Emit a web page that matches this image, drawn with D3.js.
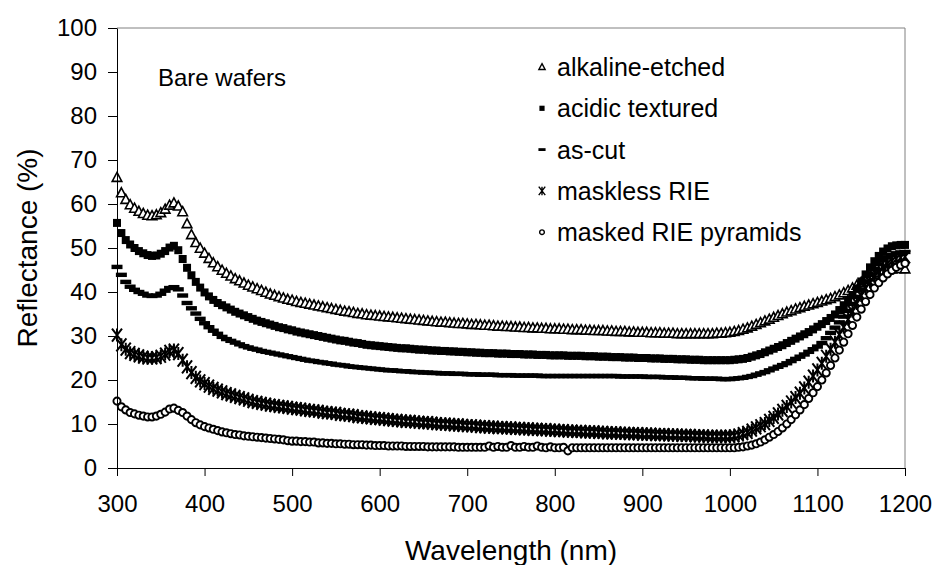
<!DOCTYPE html>
<html>
<head>
<meta charset="utf-8">
<script src="https://cdn.jsdelivr.net/npm/d3@7"></script>
<style>
  body { margin: 0; background: #fff; }
  text { font-family: "Liberation Sans", Arial, sans-serif; fill: #000; }
</style>
</head>
<body>
<div class="chart"></div>
<script>
// wavelength grid (nm)
const wavelength = [
  300,305,310,315,320,325,330,335,340,345,350,355,360,365,370,375,380,385,390,395,
  400,405,410,415,420,425,430,435,440,445,450,455,460,465,470,475,480,485,490,495,
  500,505,510,515,520,525,530,535,540,545,550,555,560,565,570,575,580,585,590,595,
  600,605,610,615,620,625,630,635,640,645,650,655,660,665,670,675,680,685,690,695,
  700,705,710,715,720,725,730,735,740,745,750,755,760,765,770,775,780,785,790,795,
  800,805,810,815,820,825,830,835,840,845,850,855,860,865,870,875,880,885,890,895,
  900,905,910,915,920,925,930,935,940,945,950,955,960,965,970,975,980,985,990,995,
  1000,1005,1010,1015,1020,1025,1030,1035,1040,1045,1050,1055,1060,1065,1070,1075,1080,1085,1090,1095,
  1100,1105,1110,1115,1120,1125,1130,1135,1140,1145,1150,1155,1160,1165,1170,1175,1180,1185,1190,1195,
  1200
];

const alkaline = [
  66.0,62.5,61.0,59.8,59.0,58.3,57.8,57.4,57.3,57.5,58.0,58.8,59.7,60.2,59.5,58.2,55.5,53.0,51.2,49.9,
  48.8,47.6,46.6,45.7,44.9,44.2,43.6,43.0,42.5,42.0,41.5,41.1,40.7,40.3,39.9,39.5,39.2,38.9,38.6,38.3,
  38.1,37.8,37.6,37.4,37.2,37.0,36.8,36.6,36.4,36.2,36.0,35.8,35.6,35.5,35.3,35.1,35.0,34.8,34.7,34.6,
  34.5,34.4,34.3,34.2,34.1,34.0,33.9,33.8,33.7,33.6,33.5,33.4,33.3,33.2,33.1,33.1,33.0,32.9,32.8,32.8,
  32.7,32.6,32.6,32.5,32.4,32.4,32.3,32.2,32.2,32.1,32.1,32.0,32.0,31.9,31.9,31.8,31.8,31.7,31.7,31.6,
  31.6,31.6,31.5,31.5,31.4,31.4,31.4,31.3,31.3,31.2,31.2,31.2,31.1,31.1,31.0,31.0,31.0,30.9,30.9,30.8,
  30.8,30.8,30.7,30.7,30.7,30.6,30.6,30.6,30.5,30.5,30.5,30.5,30.5,30.5,30.5,30.5,30.5,30.6,30.6,30.7,
  30.8,31.0,31.2,31.5,31.8,32.2,32.6,33.0,33.4,33.8,34.2,34.6,35.0,35.4,35.7,36.1,36.4,36.7,37.0,37.3,
  37.6,37.9,38.2,38.5,38.9,39.3,39.8,40.3,40.9,41.5,42.2,42.8,43.4,43.9,44.3,44.7,45.0,45.2,45.3,45.3,
  45.2
];

const acidic = [
  55.7,53.4,51.8,50.8,50.0,49.3,48.8,48.4,48.2,48.3,48.7,49.3,50.1,50.5,49.5,47.5,45.5,43.8,42.3,41.0,
  39.9,39.0,38.2,37.5,37.0,36.5,36.0,35.5,35.1,34.7,34.3,33.9,33.5,33.2,32.9,32.6,32.3,32.0,31.8,31.5,
  31.3,31.0,30.8,30.6,30.4,30.2,30.0,29.8,29.6,29.4,29.2,29.0,28.9,28.7,28.5,28.4,28.2,28.0,27.9,27.8,
  27.7,27.6,27.5,27.4,27.3,27.2,27.2,27.1,27.0,26.9,26.9,26.8,26.7,26.7,26.6,26.6,26.5,26.5,26.4,26.4,
  26.3,26.3,26.2,26.2,26.1,26.1,26.1,26.0,26.0,26.0,25.9,25.9,25.9,25.8,25.8,25.8,25.7,25.7,25.7,25.6,
  25.6,25.6,25.6,25.5,25.5,25.5,25.5,25.4,25.4,25.4,25.3,25.3,25.3,25.2,25.2,25.2,25.1,25.1,25.1,25.0,
  25.0,25.0,24.9,24.9,24.9,24.8,24.8,24.8,24.7,24.7,24.7,24.6,24.6,24.6,24.5,24.5,24.5,24.5,24.5,24.5,
  24.5,24.6,24.7,24.8,25.0,25.3,25.6,25.9,26.3,26.7,27.1,27.5,27.9,28.4,28.9,29.4,29.9,30.4,30.9,31.5,
  32.1,32.7,33.4,34.1,34.9,35.9,37.0,38.0,39.3,40.8,42.4,44.0,45.6,47.0,48.2,49.2,49.9,50.4,50.6,50.7,
  50.7
];

const asCut = [
  45.7,43.9,42.3,41.2,40.5,40.0,39.6,39.2,39.1,39.2,39.6,40.3,40.9,41.1,40.6,39.2,37.5,36.3,35.1,33.9,
  32.9,32.0,31.2,30.5,29.8,29.3,28.9,28.5,28.1,27.7,27.4,27.1,26.9,26.6,26.4,26.2,26.0,25.8,25.6,25.4,
  25.2,25.0,24.8,24.6,24.4,24.3,24.1,24.0,23.8,23.7,23.5,23.4,23.3,23.1,23.0,22.9,22.8,22.7,22.6,22.5,
  22.4,22.3,22.2,22.2,22.1,22.0,22.0,21.9,21.8,21.8,21.7,21.7,21.6,21.6,21.5,21.5,21.5,21.4,21.4,21.4,
  21.3,21.3,21.3,21.2,21.2,21.2,21.2,21.1,21.1,21.1,21.1,21.0,21.0,21.0,21.0,21.0,21.0,20.9,20.9,20.9,
  20.9,20.9,20.9,20.9,20.9,20.9,20.9,20.9,20.9,20.9,20.9,20.9,20.9,20.9,20.9,20.8,20.8,20.8,20.8,20.8,
  20.8,20.7,20.7,20.7,20.7,20.6,20.6,20.6,20.5,20.5,20.5,20.4,20.4,20.4,20.3,20.3,20.3,20.3,20.2,20.2,
  20.2,20.3,20.4,20.5,20.7,20.9,21.2,21.5,21.8,22.2,22.6,23.0,23.4,23.8,24.3,24.8,25.3,25.8,26.4,27.0,
  27.6,28.4,29.5,30.7,31.9,33.1,34.4,35.7,37.3,38.9,40.6,42.3,43.9,45.2,46.3,47.2,47.9,48.4,48.8,49.0,
  49.1
];

const maskless = [
  30.2,28.0,27.0,26.2,25.8,25.5,25.2,25.0,25.0,25.1,25.4,25.9,26.5,26.8,26.0,24.5,23.0,21.7,20.6,19.8,
  19.2,18.6,18.1,17.7,17.3,16.9,16.6,16.3,16.0,15.7,15.4,15.1,14.9,14.7,14.5,14.3,14.2,14.0,13.9,13.8,
  13.6,13.5,13.4,13.2,13.1,13.0,12.9,12.7,12.6,12.5,12.4,12.2,12.1,12.0,11.9,11.7,11.6,11.5,11.4,11.3,
  11.2,11.1,11.0,10.9,10.8,10.7,10.6,10.6,10.5,10.4,10.3,10.3,10.2,10.1,10.0,10.0,9.9,9.8,9.8,9.7,
  9.6,9.6,9.5,9.4,9.4,9.3,9.3,9.2,9.2,9.1,9.1,9.0,9.0,8.9,8.9,8.8,8.8,8.7,8.7,8.6,
  8.6,8.5,8.5,8.4,8.4,8.3,8.3,8.2,8.2,8.2,8.1,8.1,8.0,8.0,8.0,7.9,7.9,7.8,7.8,7.8,
  7.7,7.7,7.7,7.6,7.6,7.6,7.5,7.5,7.5,7.4,7.4,7.4,7.3,7.3,7.3,7.2,7.2,7.2,7.2,7.2,
  7.2,7.3,7.5,7.8,8.1,8.6,9.1,9.6,10.1,10.8,11.5,12.3,13.1,14.0,15.0,16.0,17.0,18.2,19.5,20.9,
  22.3,23.8,25.4,27.0,28.6,30.3,32.0,33.8,35.6,37.4,39.2,40.8,42.3,43.6,44.7,45.6,46.4,47.0,47.5,47.8,
  48.0
];

const masked = [
  15.2,13.9,13.2,12.6,12.3,12.0,11.8,11.6,11.6,11.8,12.2,12.7,13.4,13.6,13.1,12.6,11.8,11.0,10.3,9.8,
  9.4,9.1,8.8,8.5,8.2,8.0,7.8,7.6,7.5,7.3,7.2,7.1,7.0,6.9,6.8,6.7,6.6,6.5,6.4,6.2,
  6.1,6.1,6.0,6.0,5.9,5.9,5.7,5.7,5.6,5.6,5.5,5.5,5.4,5.4,5.3,5.3,5.3,5.2,5.2,5.1,
  5.1,5.1,5.0,5.0,5.0,5.0,4.9,4.9,4.9,4.9,4.9,4.8,4.8,4.8,4.8,4.8,4.8,4.8,4.7,4.7,
  4.7,4.7,4.7,4.7,4.7,5.0,4.7,4.9,4.7,4.7,5.1,4.7,4.7,4.9,4.7,4.7,5.0,4.7,4.6,4.8,
  4.6,4.6,4.7,3.9,4.6,4.6,4.6,4.6,4.6,4.6,4.6,4.6,4.6,4.6,4.6,4.6,4.6,4.6,4.6,4.6,
  4.6,4.6,4.6,4.6,4.6,4.6,4.6,4.6,4.6,4.6,4.6,4.6,4.6,4.6,4.6,4.6,4.6,4.6,4.6,4.6,
  4.6,4.6,4.7,4.8,5.0,5.2,5.5,5.9,6.4,7.0,7.6,8.3,9.1,10.0,11.0,12.1,13.2,14.4,15.8,17.1,
  18.5,20.0,21.6,23.3,25.0,26.8,28.6,30.5,32.4,34.3,36.1,37.8,39.4,40.9,42.1,43.2,44.1,44.9,45.6,46.1,
  46.5
];

const seriesNames = ["alkaline-etched", "acidic textured", "as-cut", "maskless RIE", "masked RIE pyramids"];
const seriesValues = [alkaline, acidic, asCut, maskless, masked];
const seriesMarks = ["triangle", "square", "dash", "star", "circle"];

const xTicks = [300, 400, 500, 600, 700, 800, 900, 1000, 1100, 1200];
const yTicks = [0, 10, 20, 30, 40, 50, 60, 70, 80, 90, 100];

const w = 934;
const h = 565;
const plotLeft = 117, plotRight = 905, plotTop = 28, plotBottom = 468;

const xScale = d3.scaleLinear().domain([300, 1200]).range([plotLeft, plotRight]);
const yScale = d3.scaleLinear().domain([0, 100]).range([plotBottom, plotTop]);

const svg = d3.select(".chart")
  .append("svg")
  .attr("width", w)
  .attr("height", h);

// plot frame (top/right in grey)
svg.append("path")
  .attr("d", `M${plotLeft},${plotTop}H${plotRight}V${plotBottom}`)
  .attr("fill", "none")
  .attr("stroke", "#808080")
  .attr("stroke-width", 1);

// marker shapes, s = scale factor
function markPath(type, s) {
  switch (type) {
    case "triangle":
      return `M0,${-5.2*s}L${4.8*s},${3.8*s}L${-4.8*s},${3.8*s}Z`;
    case "square":
      return `M${-4*s},${-4*s}h${8*s}v${8*s}h${-8*s}Z`;
    case "dash":
      return `M${-5.5*s},${-2.2*s}h${11*s}v${4.4*s}h${-11*s}Z`;
    case "star":
      return `M${-5*s},${-6.5*s}L${5*s},${6.5*s}M${-5*s},${6.5*s}L${5*s},${-6.5*s}M0,${-6.5*s}V${6.5*s}`;
    case "circle":
      return d3.arc()({innerRadius: 0, outerRadius: 3.6*s, startAngle: 0, endAngle: 2*Math.PI});
  }
}
function markFill(type) {
  return (type === "square" || type === "dash") ? "#000" : (type === "star" ? "none" : "#fff");
}
function markStroke(type) {
  return (type === "square" || type === "dash") ? "none" : "#000";
}
function markWidth(type) {
  return type === "star" ? 2 : (type === "circle" ? 1.9 : 1.6);
}

const plot = svg.append("g");

seriesValues.forEach((vals, k) => {
  const type = seriesMarks[k];
  const pts = wavelength.map((wl, i) => [wl, vals[i]]);
  plot.append("g")
    .attr("class", "series")
    .selectAll("path")
    .data(pts)
    .enter()
    .append("path")
    .attr("transform", (d) => `translate(${xScale(d[0])},${yScale(d[1])})`)
    .attr("d", markPath(type, 1))
    .attr("fill", markFill(type))
    .attr("stroke", markStroke(type))
    .attr("stroke-width", markWidth(type));
});

// axes
const xAxis = d3.axisBottom(xScale).tickValues(xTicks).tickFormat(d3.format("d"))
  .tickSize(8).tickSizeOuter(0).tickPadding(19);
const yAxis = d3.axisLeft(yScale).tickValues(yTicks).tickFormat(d3.format("d"))
  .tickSize(9).tickSizeOuter(0).tickPadding(11);

const gx = svg.append("g")
  .attr("transform", `translate(0, ${plotBottom})`)
  .call(xAxis);
const gy = svg.append("g")
  .attr("transform", `translate(${plotLeft}, 0)`)
  .call(yAxis);

[gx, gy].forEach((g) => {
  g.selectAll("path, line").attr("stroke", "#000");
  g.selectAll("text")
    .style("font-family", "'Liberation Sans', Arial, sans-serif")
    .style("font-size", "24px")
    .attr("fill", "#000");
});

// axis titles
svg.append("text")
  .attr("text-anchor", "middle")
  .attr("transform", `translate(37, ${(plotTop + plotBottom) / 2}) rotate(-90)`)
  .style("font-size", "28px")
  .text("Reflectance (%)");

svg.append("text")
  .attr("text-anchor", "middle")
  .attr("x", (plotLeft + plotRight) / 2)
  .attr("y", 560)
  .style("font-size", "28px")
  .text("Wavelength (nm)");

// annotation
svg.append("text")
  .attr("x", 158)
  .attr("y", 86)
  .style("font-size", "24px")
  .text("Bare wafers");

// legend
const legend = svg.selectAll(".legend")
  .data(seriesNames)
  .enter()
  .append("g")
  .attr("class", "legend")
  .attr("transform", (d, i) => `translate(542, ${67 + i * 41.3})`);

legend.append("path")
  .attr("d", (d, i) => markPath(seriesMarks[i], 0.65))
  .attr("fill", (d, i) => markFill(seriesMarks[i]))
  .attr("stroke", (d, i) => markStroke(seriesMarks[i]))
  .attr("stroke-width", 1.4);

legend.append("text")
  .attr("x", 15)
  .attr("y", 9)
  .style("font-size", "25px")
  .text((d) => d);
</script>
</body>
</html>
